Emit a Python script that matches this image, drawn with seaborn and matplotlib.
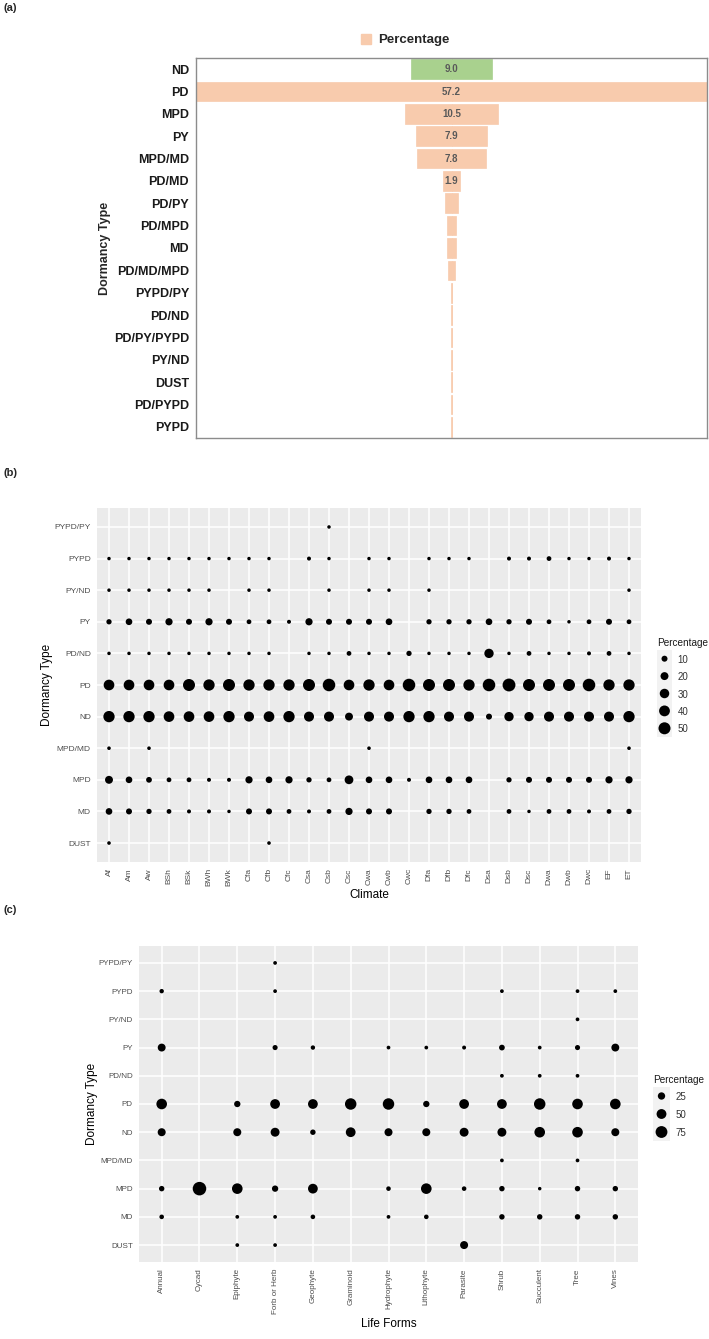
import numpy as np
import pandas as pd
import matplotlib
matplotlib.use("Agg")
import matplotlib.pyplot as plt
import seaborn as sns
from matplotlib.patches import Patch

sns.set_theme(style="white")
NARROW = ['Liberation Sans Narrow', 'Liberation Sans', 'DejaVu Sans']
REG = ['Liberation Sans', 'DejaVu Sans']
plt.rcParams['font.family'] = NARROW

N = None

# ---------------- Panel (a) data ----------------
types_a = ["ND", "PD", "MPD", "PY", "MPD/MD", "PD/MD", "PD/PY", "PD/MPD", "MD",
           "PD/MD/MPD", "PYPD/PY", "PD/ND", "PD/PY/PYPD", "PY/ND", "DUST", "PD/PYPD", "PYPD"]
pct_a = [9.0, 57.2, 10.5, 7.9, 7.8, 1.9, 1.4, 1.0, 1.0, 0.8, 0.2, 0.2, 0.15, 0.15, 0.15, 0.15, 0.15]
labelled_a = ["ND", "PD", "MPD", "PY", "MPD/MD", "PD/MD"]

# ---------------- Panel (b) data ----------------
climates = ["Af", "Am", "Aw", "BSh", "BSk", "BWh", "BWk", "Cfa", "Cfb", "Cfc", "Csa", "Csb", "Csc",
            "Cwa", "Cwb", "Cwc", "Dfa", "Dfb", "Dfc", "Dsa", "Dsb", "Dsc", "Dwa", "Dwb", "Dwc", "EF", "ET"]
dorm_order = ["DUST", "MD", "MPD", "MPD/MD", "ND", "PD", "PD/ND", "PY", "PY/ND", "PYPD", "PYPD/PY"]

b_DUST = [1.5, N, N, N, N, N, N, N, 1.5, N, N, N, N, N, N, N, N, N, N, N, N, N, N, N, N, N, N]
b_MD = [13, 10, 7, 5, 2.6, 2.6, 1.2, 10, 10, 5, 2.6, 5, 16, 10, 10, N, 7, 7, 5, N, 5, 1.2, 5, 5, 2.6, 5, 7]
b_MPD = [20, 13, 9, 5, 5, 2.6, 2.6, 16, 13, 16, 7, 5, 25, 13, 13, 2.6, 13, 13, 13, N, 7, 10, 10, 10, 10, 16, 16]
b_MPD_MD = [1.5, N, 1.5, N, N, N, N, N, N, N, N, N, N, 1.5, N, N, N, N, N, N, N, N, N, N, N, N, 1.5]
b_ND = [44, 44, 44, 39, 39, 39, 44, 34, 39, 44, 34, 34, 20, 34, 34, 44, 44, 34, 34, 10, 29, 29, 34, 34, 34, 34, 44]
b_PD = [39, 39, 39, 39, 50, 44, 50, 44, 44, 44, 50, 55, 39, 44, 39, 55, 50, 50, 44, 55, 58, 50, 50, 50, 55, 44, 44]
b_PD_ND = [1.2, 1.2, 1.2, 1.2, 1.2, 1.2, 1.2, 1.2, 1.2, N, 1.2, 1.2, 5, 1.2, 1.2, 7, 1.2, 1.2, 1.2, 29, 1.2, 5, 1.2, 1.2, 2.6, 5, 1.2]
b_PY = [7, 13, 10, 16, 10, 16, 10, 5, 5, 2.6, 16, 10, 10, 10, 13, N, 7, 7, 7, 13, 7, 10, 5, 1.2, 5, 10, 5]
b_PY_ND = [1.2, 1.2, 1.2, 1.2, 1.2, 1.2, N, 1.2, 1.2, N, N, 1.2, N, 1.2, 1.2, N, 1.2, N, N, N, N, N, N, N, N, N, 1.2]
b_PYPD = [1.2, 1.2, 1.2, 1.2, 1.2, 1.2, 1.2, 1.2, 1.2, N, 2.6, 1.2, N, 1.2, 1.2, N, 1.2, 1.2, 1.2, N, 2.6, 2.6, 5, 1.2, 1.2, 2.6, 1.2]
b_PYPD_PY = [N, N, N, N, N, N, N, N, N, N, N, 1.2, N, N, N, N, N, N, N, N, N, N, N, N, N, N, N]
legend_b = [10, 20, 30, 40, 50]

# ---------------- Panel (c) data ----------------
life_forms = ["Annual", "Cycad", "Epiphyte", "Forb or Herb", "Geophyte", "Graminoid", "Hydrophyte",
              "Lithophyte", "Parasite", "Shrub", "Succulent", "Tree", "Vines"]
c_DUST = [N, N, 2, 2, N, N, N, N, 31, N, N, N, N]
c_MD = [6, N, 2, 2, 6, N, 2, 6, N, 11, 11, 11, 11]
c_MPD = [11, 100, 59, 17, 49, N, 6, 59, 6, 11, 1, 11, 11]
c_MPD_MD = [N, N, N, N, N, N, N, N, N, 2, N, 2, N]
c_ND = [31, N, 31, 40, 11, 49, 31, 31, 40, 40, 59, 59, 31]
c_PD = [59, N, 17, 49, 49, 70, 70, 17, 49, 49, 70, 59, 59]
c_PD_ND = [N, N, N, N, N, N, N, N, N, 2, 2, 2, N]
c_PY = [30, N, N, 9, 5, N, 2, 2, 3, 13, 2, 9, 30]
c_PY_ND = [N, N, N, N, N, N, N, N, N, N, N, 2, N]
c_PYPD = [5, N, N, 2, N, N, N, N, N, 2, N, 2, 2]
c_PYPD_PY = [N, N, N, 2, N, N, N, N, N, N, N, N, N]
legend_c = [25, 50, 75]

rows_b = dict(zip(dorm_order, [b_DUST, b_MD, b_MPD, b_MPD_MD, b_ND, b_PD, b_PD_ND, b_PY, b_PY_ND, b_PYPD, b_PYPD_PY]))
rows_c = dict(zip(dorm_order, [c_DUST, c_MD, c_MPD, c_MPD_MD, c_ND, c_PD, c_PD_ND, c_PY, c_PY_ND, c_PYPD, c_PYPD_PY]))


def long_df(cols, rows, colname):
    recs = []
    for dt, vals in rows.items():
        for c, v in zip(cols, vals):
            if v is not None:
                recs.append({colname: c, "Dormancy Type": dt, "Percentage": v})
    return pd.DataFrame(recs)


df_b = long_df(climates, rows_b, "Climate")
df_c = long_df(life_forms, rows_c, "Life Forms")

# ---------------- Figure ----------------
W, H = 709, 1339
fig = plt.figure(figsize=(W / 100, H / 100), dpi=100)


def px_axes(x0, y0, x1, y1):
    return fig.add_axes([x0 / W, 1 - y1 / H, (x1 - x0) / W, (y1 - y0) / H])


PEACH = "#F8CBAD"
GREEN = "#A9D18E"

# ---- Panel (a): centred funnel from two mirrored bar halves ----
axa = px_axes(196, 58, 707, 438)
df_a = pd.DataFrame({"type": types_a, "pct": pct_a})
df_a["right"] = df_a["pct"] / 2
df_a["left"] = -df_a["pct"] / 2
pal_a = {t: (GREEN if t == "ND" else PEACH) for t in types_a}
for col in ["right", "left"]:
    sns.barplot(data=df_a, x=col, y="type", hue="type", palette=pal_a, order=types_a,
                width=0.88, legend=False, ax=axa, saturation=1)
for p in axa.patches:
    p.set_edgecolor(p.get_facecolor())
    p.set_linewidth(0.5)
half = max(pct_a) / 2
axa.set_xlim(-half, half)
axa.set_xticks([])
axa.set_xlabel("")
axa.set_ylabel("Dormancy Type", fontsize=9, fontweight="bold", family=REG, labelpad=2)
axa.tick_params(axis="y", length=0, pad=5, labelsize=9)
for lab in axa.get_yticklabels():
    lab.set_fontweight("bold")
    lab.set_color("#1a1a1a")
for s in axa.spines.values():
    s.set_visible(True)
    s.set_color("#8C8C8C")
    s.set_linewidth(1.0)
for i, (t, v) in enumerate(zip(types_a, pct_a)):
    if t in labelled_a:
        axa.text(0, i, f"{v:.1f}", ha="center", va="center", fontsize=7, color="#595959",
                 fontweight="bold")
fig.legend(handles=[Patch(color=PEACH, label="Percentage")], loc="center",
           bbox_to_anchor=(405 / W, 1 - 40 / H), frameon=False, handlelength=0.8,
           handleheight=0.8, handletextpad=0.5, prop={"weight": "bold", "size": 9.5})


# ---- ggplot-like bubble panels ----
def bubble(ax, df, xcol, xcats, size_norm, sizes, xlabel, xpad, ypad, lsize):
    ax.set_facecolor("#EBEBEB")
    ax.xaxis.update_units(np.array(xcats))
    ax.yaxis.update_units(np.array(dorm_order))
    sns.scatterplot(data=df, x=xcol, y="Dormancy Type", size="Percentage", sizes=sizes,
                    size_norm=size_norm, color="black", linewidth=0, legend=False, ax=ax)
    ax.set_xlim(-0.6, len(xcats) - 0.4)
    ax.set_ylim(-0.6, len(dorm_order) - 0.4)
    ax.grid(True, color="white", linewidth=1.1)
    ax.set_axisbelow(True)
    for s in ax.spines.values():
        s.set_visible(False)
    ax.tick_params(axis="both", length=3, width=0.6, color="#333333", labelsize=lsize,
                   labelcolor="#4D4D4D", pad=1.5)
    ax.tick_params(axis="x", labelrotation=90)
    ax.set_xlabel(xlabel, fontsize=8.5, color="black", labelpad=xpad, family=REG)
    ax.set_ylabel("Dormancy Type", fontsize=8.5, color="black", labelpad=ypad, family=REG)


def size_legend(x0, y0, x1, y1, vals, size_norm, sizes):
    ax = px_axes(x0, y0, x1, y1)
    ax.set_facecolor("#F2F2F2")
    labs = [str(v) for v in vals]
    ax.yaxis.update_units(np.array(labs))
    sns.scatterplot(x=["k"] * len(vals), y=labs, size=vals, sizes=sizes, size_norm=size_norm,
                    color="black", linewidth=0, legend=False, ax=ax, clip_on=False)
    ax.set_xlim(-0.5, 0.5)
    ax.set_ylim(len(vals) - 0.5, -0.5)
    ax.set_xticks([])
    ax.yaxis.tick_right()
    ax.tick_params(axis="y", length=0, pad=4, labelsize=7, labelcolor="#333333")
    for s in ax.spines.values():
        s.set_visible(False)
    ax.set_xlabel("")
    ax.set_ylabel("")
    ax.set_title("Percentage", loc="left", fontsize=7.2, pad=3, family=REG, color="#1a1a1a")


SIZES_B = (4.67, 88.6)
NORM_B = (0, 60)
axb = px_axes(97, 508, 641, 862)
bubble(axb, df_b, "Climate", climates, NORM_B, SIZES_B, "Climate", 2, 1, 6)
size_legend(657, 650, 672, 737, legend_b, NORM_B, SIZES_B)

SIZES_C = (5.5, 95)
NORM_C = (0, 100)
axc = px_axes(139, 946, 638, 1262)
bubble(axc, df_c, "Life Forms", life_forms, NORM_C, SIZES_C, "Life Forms", 3, 0, 5.8)
size_legend(653, 1087, 670, 1141, legend_c, NORM_C, SIZES_C)

for lab, y in [("(a)", 8), ("(b)", 473), ("(c)", 910)]:
    fig.text(3 / W, 1 - y / H, lab, fontsize=8, fontweight="bold", va="center", ha="left")

fig.savefig("out.png", dpi=100)
